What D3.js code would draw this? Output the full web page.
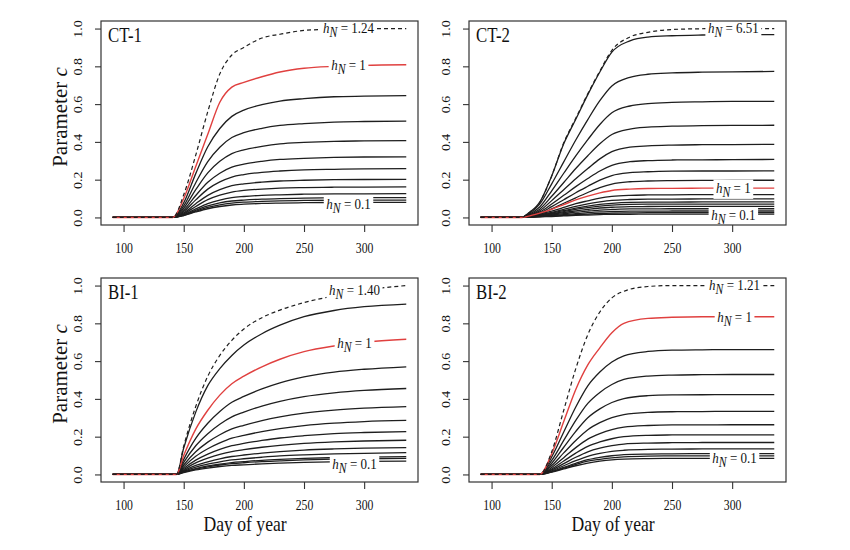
<!DOCTYPE html>
<html><head><meta charset="utf-8">
<script src="https://cdn.jsdelivr.net/npm/d3@7"></script>
<style>
body{margin:0;background:#fff}
text{font-family:"Liberation Serif","Times New Roman",serif;fill:#111}
</style>
</head><body>
<svg id="chart" width="850" height="550"></svg>
<script>
// ---------------- DATA ----------------
const panelNames = ["CT-1", "CT-2", "BI-1", "BI-2"];
const xTickValues = [100, 150, 200, 250, 300];
const yTickValues = [0, 0.2, 0.4, 0.6, 0.8, 1.0];
const topLabels = ["1.24", "6.51", "1.40", "1.21"];
const midLabel = "1";
const lowLabel = "0.1";

// CT-1
const ct1Days = [91,141,150,160,170,180,190,200,215,230,250,275,300,335];
const ct1Dashed = [0,0,.12,.33,.56,.76,.86,.9,.95,.97,.99,.997,1,1];
const ct1Red = [0,0,.1,.27,.44,.61,.69,.715,.745,.77,.79,.8,.805,.808];
const ct1Black = [
  [0,0,.077,.232,.374,.471,.535,.568,.597,.616,.629,.639,.642,.645],
  [0,0,.061,.184,.296,.372,.423,.449,.472,.487,.497,.505,.508,.51],
  [0,0,.049,.147,.236,.297,.338,.358,.376,.389,.397,.403,.405,.407],
  [0,0,.039,.116,.186,.234,.266,.282,.297,.307,.313,.318,.32,.321],
  [0,0,.031,.093,.15,.188,.214,.227,.239,.246,.252,.255,.257,.258],
  [0,0,.024,.073,.117,.147,.168,.178,.187,.193,.197,.2,.201,.202],
  [0,0,.019,.058,.094,.118,.134,.143,.15,.155,.158,.16,.161,.162],
  [0,0,.015,.045,.073,.092,.105,.111,.117,.12,.123,.125,.125,.126],
  [0,0,.013,.038,.061,.077,.087,.092,.097,.1,.102,.104,.105,.105],
  [0,0,.011,.033,.053,.067,.076,.081,.085,.088,.09,.091,.092,.092],
  [0,0,.01,.029,.046,.058,.066,.07,.074,.076,.078,.079,.08,.08]
];

// CT-2
const ct2Days = [91,125,130,140,150,160,170,180,190,200,215,230,250,275,300,335];
const ct2Dashed = [0,0,.02,.08,.22,.395,.525,.655,.775,.885,.955,.98,.995,.999,1,1];
const ct2Red = [0,0,.006,.023,.043,.068,.093,.113,.13,.143,.15,.153,.154,.155,.155,.155];
const ct2Black = [
  [0,0,.02,.08,.22,.39,.52,.65,.77,.875,.935,.955,.962,.966,.968,.968],
  [0,0,.015,.07,.178,.294,.41,.518,.618,.696,.742,.758,.765,.769,.771,.773],
  [0,0,.012,.055,.141,.234,.326,.412,.492,.554,.59,.603,.609,.612,.614,.615],
  [0,0,.01,.044,.112,.185,.259,.327,.39,.439,.468,.478,.483,.486,.487,.488],
  [0,0,.008,.035,.089,.147,.205,.259,.31,.348,.372,.379,.383,.385,.386,.387],
  [0,0,.006,.028,.071,.117,.163,.206,.246,.276,.295,.301,.304,.305,.306,.307],
  [0,0,.005,.022,.057,.094,.131,.165,.198,.222,.237,.242,.245,.246,.246,.247],
  [0,0,.004,.018,.045,.075,.104,.132,.158,.177,.189,.193,.195,.196,.197,.197],
  [0,0,.005,.018,.034,.053,.073,.088,.102,.111,.117,.119,.12,.121,.121,.121],
  [0,0,.004,.015,.027,.043,.059,.072,.082,.09,.095,.097,.097,.098,.098,.098],
  [0,0,.003,.012,.023,.036,.049,.06,.069,.075,.08,.081,.081,.082,.082,.082],
  [0,0,.003,.011,.02,.031,.043,.052,.06,.065,.069,.07,.07,.071,.071,.071],
  [0,0,.002,.009,.017,.026,.035,.043,.05,.054,.057,.058,.059,.059,.059,.059],
  [0,0,.002,.007,.013,.02,.028,.034,.039,.042,.045,.045,.046,.046,.046,.046],
  [0,0,.001,.005,.01,.015,.02,.025,.029,.031,.033,.033,.034,.034,.034,.034],
  [0,0,.001,.004,.007,.011,.015,.018,.021,.023,.024,.025,.025,.025,.025,.025],
  [0,0,.001,.003,.005,.008,.011,.013,.015,.017,.017,.018,.018,.018,.018,.018]
];

// BI-1
const bi1Days = [91,144,150,160,170,180,190,200,215,230,250,275,300,335];
const bi1Dashed = [0,0,.15,.36,.52,.63,.71,.77,.83,.87,.91,.945,.975,1];
const bi1Red = [0,0,.1,.24,.34,.42,.48,.52,.57,.61,.65,.68,.70,.716];
const bi1Black = [
  [0,0,.14,.33,.47,.56,.63,.685,.745,.79,.835,.868,.888,.902],
  [0,0,.08,.191,.271,.333,.382,.413,.453,.485,.516,.542,.557,.57],
  [0,0,.064,.152,.216,.266,.305,.33,.362,.387,.412,.432,.445,.455],
  [0,0,.05,.12,.171,.21,.241,.26,.285,.305,.325,.341,.351,.359],
  [0,0,.04,.096,.136,.167,.192,.207,.227,.243,.259,.272,.28,.286],
  [0,0,.032,.076,.108,.133,.152,.165,.18,.193,.205,.216,.222,.227],
  [0,0,.025,.061,.086,.106,.121,.131,.144,.154,.164,.172,.177,.181],
  [0,0,.02,.048,.067,.083,.095,.103,.113,.121,.129,.135,.139,.142],
  [0,0,.016,.039,.055,.067,.077,.083,.091,.098,.104,.109,.112,.115],
  [0,0,.013,.031,.045,.055,.063,.068,.075,.08,.085,.089,.092,.094],
  [0,0,.012,.028,.04,.05,.057,.062,.068,.072,.077,.081,.083,.085],
  [0,0,.01,.024,.034,.042,.048,.051,.056,.06,.064,.067,.069,.071]
];

// BI-2
const bi2Days = [91,140,150,160,170,180,190,200,210,230,250,275,300,335];
const bi2Dashed = [0,0,.12,.34,.56,.74,.86,.935,.97,.995,1,1,1,1];
const bi2Red = [0,0,.11,.28,.45,.58,.67,.75,.80,.826,.832,.835,.835,.835];
const bi2Black = [
  [0,0,.093,.225,.357,.469,.542,.595,.628,.651,.658,.66,.661,.661],
  [0,0,.074,.18,.286,.376,.434,.476,.503,.521,.526,.528,.529,.529],
  [0,0,.059,.144,.228,.3,.347,.381,.402,.417,.421,.422,.423,.423],
  [0,0,.047,.114,.18,.237,.274,.301,.317,.329,.332,.333,.334,.334],
  [0,0,.037,.089,.142,.187,.216,.237,.25,.259,.262,.262,.263,.263],
  [0,0,.029,.071,.113,.149,.172,.189,.2,.207,.209,.21,.21,.21],
  [0,0,.024,.057,.091,.12,.139,.152,.161,.166,.168,.169,.169,.169],
  [0,0,.019,.046,.073,.096,.111,.122,.128,.133,.134,.135,.135,.135],
  [0,0,.015,.037,.059,.078,.09,.099,.105,.108,.109,.11,.11,.11],
  [0,0,.014,.033,.053,.07,.08,.088,.093,.097,.098,.098,.098,.098],
  [0,0,.012,.029,.046,.06,.07,.077,.081,.084,.085,.085,.085,.085]
];

// Label anchors (day where label is centred, and c-levels of the three labels)
const labelDay = [287, 301, 292, 302];
const labelLevels = [[1.0, 0.805, 0.067], [1.0, 0.156, 0.009], [0.973, 0.693, 0.053], [1.0, 0.831, 0.085]];

// ---------------- LAYOUT ----------------
const panelData = [
  {days: ct1Days, dashed: ct1Dashed, red: ct1Red, black: ct1Black},
  {days: ct2Days, dashed: ct2Dashed, red: ct2Red, black: ct2Black},
  {days: bi1Days, dashed: bi1Dashed, red: bi1Red, black: bi1Black},
  {days: bi2Days, dashed: bi2Dashed, red: bi2Red, black: bi2Black}
];
const colX = [101, 469], rowY = [21, 278];
const PW = 317, PH = 204;
const SX = 0.84; // horizontal squeeze of the original figure's text
const svg = d3.select("#chart");
svg.append("rect").attr("width", 850).attr("height", 550).attr("fill", "#fff");

panelData.forEach((p, i) => {
  const col = i % 2, row = Math.floor(i / 2);
  const g = svg.append("g").attr("transform", `translate(${colX[col]},${rowY[row]})`);
  const x = d3.scaleLinear().domain([81.24, 344.76]).range([0, PW]);
  const y = d3.scaleLinear().domain([-0.04, 1.04]).range([PH, 0]);
  const line = d3.line().x((d, k) => x(p.days[k])).y(d => y(d)).curve(d3.curveMonotoneX);

  const lines = g.append("g").attr("fill", "none");
  p.black.forEach(v => lines.append("path").attr("d", line(v)).attr("stroke", "#1e1e1e").attr("stroke-width", 1.3));
  lines.append("path").attr("d", line(p.red)).attr("stroke", "#e0403f").attr("stroke-width", 1.4);
  lines.append("path").attr("d", line(p.dashed)).attr("stroke", "#1e1e1e").attr("stroke-width", 1.2).attr("stroke-dasharray", "4,3");

  // labels with white backgrounds
  [topLabels[i], midLabel, lowLabel].forEach((lab, k) => {
    const lg = g.append("g").attr("transform", `translate(${x(labelDay[i])},${y(labelLevels[i][k])}) scale(${SX},1)`);
    const bg = lg.append("rect").attr("fill", "#fff");
    const t = lg.append("text").attr("text-anchor", "middle").attr("font-size", 15.5).attr("dy", "0.3em");
    t.append("tspan").attr("font-style", "italic").text("h");
    t.append("tspan").attr("font-style", "italic").attr("font-size", 14).attr("dy", 4).text("N");
    t.append("tspan").attr("dy", -4).text(" = " + lab);
    const bb = t.node().getBBox();
    bg.attr("x", bb.x - 3).attr("y", bb.y + 1).attr("width", bb.width + 6).attr("height", bb.height - 2);
  });

  // frame
  g.append("rect").attr("width", PW).attr("height", PH).attr("fill", "none").attr("stroke", "#333").attr("stroke-width", 1.2);

  // x axis
  const xa = g.append("g").attr("transform", `translate(0,${PH})`)
    .call(d3.axisBottom(x).tickValues(xTickValues).tickSize(7).tickPadding(11).tickSizeOuter(0));
  xa.select(".domain").remove();
  xa.selectAll(".tick line").attr("stroke", "#333").attr("stroke-width", 1.1);
  xa.selectAll(".tick text").attr("font-size", 14).attr("font-family", "Liberation Serif, serif")
    .attr("fill", "#111").attr("transform", `scale(${SX},1)`);

  // y axis
  const ya = g.append("g").call(d3.axisLeft(y).tickValues(yTickValues).tickSize(6).tickSizeOuter(0).tickFormat(d3.format(".1f")));
  ya.select(".domain").remove();
  ya.selectAll(".tick line").attr("stroke", "#333").attr("stroke-width", 1.1);
  ya.selectAll(".tick text").attr("x", null).attr("dy", "0.35em").attr("text-anchor", "middle")
    .attr("font-size", 14).attr("font-family", "Liberation Serif, serif").attr("fill", "#111")
    .attr("transform", `translate(-24,0) scale(0.92,1) rotate(-90)`);

  // panel name
  g.append("text").attr("transform", `translate(7,21) scale(${SX},1)`).attr("font-size", 20).text(panelNames[i]);

  // axis titles
  if (col === 0) {
    const yl = g.append("text").attr("text-anchor", "middle").attr("font-size", 21).attr("dy", "0.35em")
      .attr("transform", `translate(-41,${PH / 2 - 6}) scale(0.95,1) rotate(-90)`);
    yl.append("tspan").text("Parameter ");
    yl.append("tspan").attr("font-style", "italic").text("c");
  }
  if (row === 1) {
    g.append("text").attr("text-anchor", "middle").attr("font-size", 21)
      .attr("transform", `translate(${x(201)},${PH + 49}) scale(${SX},1)`).text("Day of year");
  }
});
</script>
</body></html>
